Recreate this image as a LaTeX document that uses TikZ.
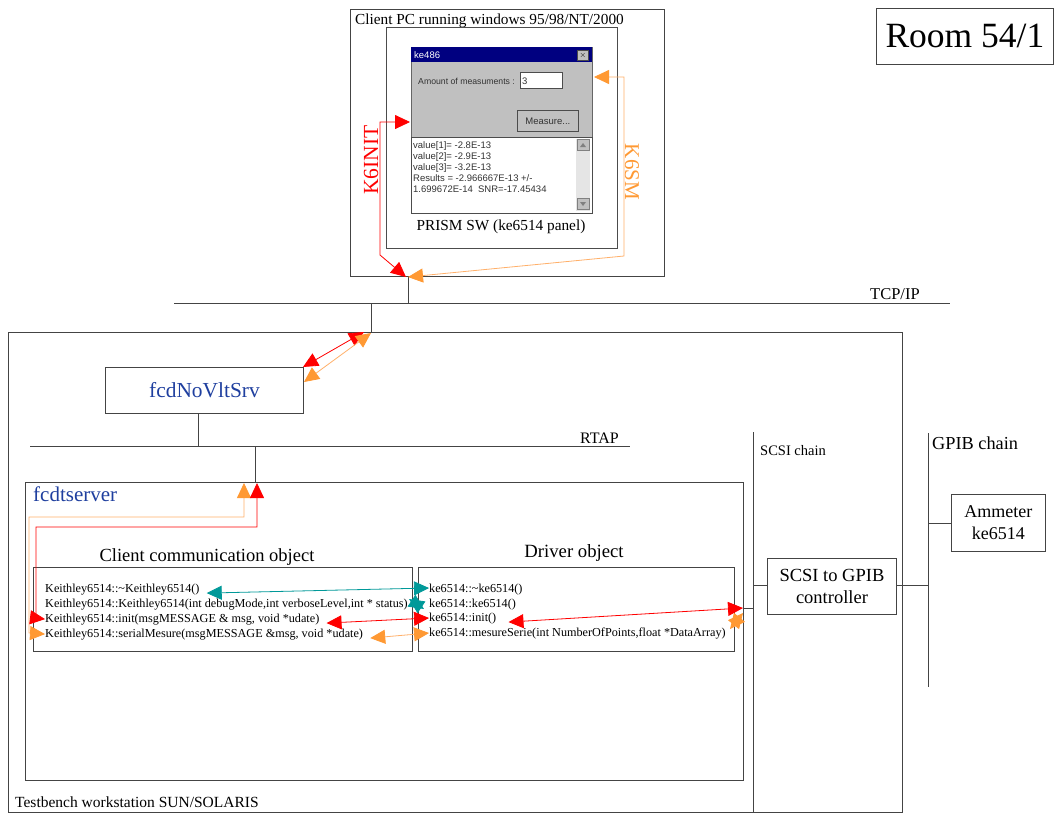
\documentclass[tikz,border=0pt]{standalone}
\usepackage{fontspec}
\setmainfont{Liberation Serif}
\newfontfamily\winfont{Liberation Sans}
\usetikzlibrary{arrows.meta}
\definecolor{cred}{HTML}{FF0000}
\definecolor{corange}{HTML}{FF9933}
\definecolor{corline}{HTML}{FFB06A}
\definecolor{cteal}{HTML}{009999}
\definecolor{cblue}{HTML}{1F3F9F}
\definecolor{cline}{HTML}{444444}
\definecolor{wingray}{HTML}{C0C0C0}
\definecolor{winnavy}{HTML}{000080}
\tikzset{
  box/.style={draw=cline, line width=0.9pt, inner sep=0pt},
  bus/.style={draw=cline, line width=0.9pt},
  lbl/.style={inner sep=0pt, anchor=base west},
  code/.style={inner sep=0pt, anchor=base west, font=\fontsize{12.2}{13}\selectfont},
  dtip/.style={{Triangle[length=15pt,width=14pt]}-{Triangle[length=15pt,width=14pt]}},
  redarr/.style={draw=cred, line width=0.8pt},
  orarr/.style={draw=corline, line width=0.8pt, {Triangle[length=15pt,width=14pt,color=corange]}-{Triangle[length=15pt,width=14pt,color=corange]}},
  tealarr/.style={draw=cteal, line width=0.8pt},
  wintext/.style={inner sep=0pt, anchor=base west, font=\winfont\fontsize{9.5}{11}\selectfont, text=black!80},
}
\begin{document}
\begin{tikzpicture}[x=1pt,y=-1pt]
\useasboundingbox (0,0) rectangle (1055,812);
\fill[white] (0,0) rectangle (1055,812);

% Room
\node[box, minimum width=177pt, minimum height=56pt, anchor=north west, font=\fontsize{35.5}{37}\selectfont] (room) at (876,8) {Room 54/1};

% Client PC
\node[box, minimum width=314pt, minimum height=267pt, anchor=north west] (pc) at (350,9) {};
\node[lbl, font=\fontsize{15.3}{17}\selectfont] (pclbl) at (355,24) {Client PC running windows 95/98/NT/2000};
\node[draw=black!70, line width=0.9pt, minimum width=231pt, minimum height=221pt, anchor=north west, inner sep=0pt] (inner) at (386,27) {};

% Window screenshot
\node[fill=wingray, draw=black!60, line width=0.8pt, minimum width=181pt, minimum height=166pt, anchor=north west, inner sep=0pt] (win) at (411,47) {};
\fill[winnavy] (411,47) rectangle (592,62);
\node[inner sep=0pt, anchor=base west, font=\winfont\fontsize{9.5}{10}\selectfont, text=white] (wintitle) at (414,58.5) {ke486};
\node[fill=wingray, draw=black!70, minimum width=11pt, minimum height=10pt, inner sep=0pt, font=\winfont\bfseries\fontsize{8}{8}\selectfont] (close) at (583,55) {$\times$};
\node[wintext, font=\winfont\fontsize{8.7}{10}\selectfont] (amt) at (418,84) {Amount of measuments :};
\node[fill=white, draw=black!70, line width=0.6pt, minimum width=42pt, minimum height=16pt, anchor=north west, inner sep=0pt] (field) at (520,72) {};
\node[wintext] (three) at (522,84) {3};
\node[fill=wingray, draw=black!70, line width=0.8pt, minimum width=61pt, minimum height=21pt, anchor=north west, inner sep=0pt] (btn) at (517,110) {};
\node[inner sep=0pt, font=\winfont\fontsize{9.5}{11}\selectfont, text=black!80] (btntext) at (btn.center) {Measure...};
\node[fill=white, draw=black!70, line width=0.8pt, minimum width=181pt, minimum height=76pt, anchor=north west, inner sep=0pt] (area) at (411,137) {};
\fill[black!10] (576,139) rectangle (590,211);
\node[fill=wingray, draw=black!50, minimum width=12pt, minimum height=11pt, inner sep=0pt] (sbup) at (583,145) {};
\fill[black!50] (580,147) -- (586,147) -- (583,143) -- cycle;
\node[fill=wingray, draw=black!50, minimum width=12pt, minimum height=11pt, inner sep=0pt] (sbdn) at (583,204) {};
\fill[black!50] (580,202) -- (586,202) -- (583,206) -- cycle;
\node[wintext] (v1) at (413,148.5) {value[1]= -2.8E-13};
\node[wintext] (v2) at (413,159.5) {value[2]= -2.9E-13};
\node[wintext] (v3) at (413,170.5) {value[3]= -3.2E-13};
\node[wintext] (v4) at (413,181.5) {Results = -2.966667E-13 +/-};
\node[wintext] (v5) at (413,192.5) {1.699672E-14~~SNR=-17.45434};
\node[inner sep=0pt, font=\fontsize{15.3}{17}\selectfont] (prism) at (501,227) {PRISM SW (ke6514 panel)};

% K6INIT / K6SM labels
\node[inner sep=0pt, rotate=90, text=cred, font=\fontsize{21.5}{23}\selectfont] (k6init) at (371,160) {K6INIT};
\node[inner sep=0pt, rotate=-90, text=corange, font=\fontsize{21}{23}\selectfont] (k6sm) at (632,172) {K6SM};

% TCP/IP
\coordinate (tcpL) at (174,303);
\coordinate (tcpR) at (950,303);
\draw[bus] (tcpL) -- (tcpR);
\node[lbl, font=\fontsize{16.5}{18}\selectfont] (tcplbl) at (870,299) {TCP/IP};
\coordinate (pcdrop) at (408,276);
\coordinate (pctcp) at (408,303);
\draw[bus] (pcdrop) -- (pctcp);
\coordinate (tbtcp) at (371,303);
\coordinate (tbtop) at (371,332);
\draw[bus] (tbtcp) -- (tbtop);

% arrows in client PC
\coordinate (k6a) at (410,122);
\coordinate (k6b) at (406,277);
\draw[redarr, dtip, cred] (k6a) -- (380,122) -- (380,255) -- (k6b);
\coordinate (k6c) at (594,77);
\coordinate (k6d) at (408,277);
\draw[orarr] (k6c) -- (624,77) -- (624,256) -- (k6d);

% Testbench
\node[box, minimum width=894pt, minimum height=480pt, anchor=north west] (tb) at (8,332) {};
\node[lbl, font=\fontsize{15.5}{17}\selectfont] (tblbl) at (15,807) {Testbench workstation SUN/SOLARIS};

% fcdNoVltSrv
\node[box, minimum width=198pt, minimum height=46pt, anchor=north west, text=cblue, font=\fontsize{21.4}{23}\selectfont] (nov) at (105,367) {fcdNoVltSrv};
\coordinate (tbjA) at (364,332);
\coordinate (tbjB) at (371,333);
\draw[redarr, dtip, cred] (tbjA) -- (303,367);
\draw[orarr] (tbjB) -- (304,382);

% RTAP
\coordinate (rtL) at (30,446);
\coordinate (rtR) at (630,446);
\draw[bus] (rtL) -- (rtR);
\node[lbl, font=\fontsize{16}{18}\selectfont] (rtlbl) at (580,443) {RTAP};
\coordinate (novrt) at (198,446);
\draw[bus] (nov.south -| novrt) -- (novrt);
\coordinate (rtdrop) at (255,446);
\coordinate (fsdrop) at (255,482);
\draw[bus] (rtdrop) -- (fsdrop);

% fcdtserver
\node[box, minimum width=718pt, minimum height=298pt, anchor=north west] (fs) at (25,482) {};
\node[lbl, text=cblue, font=\fontsize{21}{23}\selectfont] (fslbl) at (33,501) {fcdtserver};

% client communication object
\node[inner sep=0pt, font=\fontsize{18.5}{20}\selectfont] (cctitle) at (207,557) {Client communication object};
\node[box, minimum width=379pt, minimum height=84pt, anchor=north west] (cc) at (33,567) {};
\node[code] (c1) at (45,592) {Keithley6514::\textasciitilde Keithley6514()};
\node[code] (c2) at (45,607) {Keithley6514::Keithley6514(int debugMode,int verboseLevel,int * status)};
\node[code] (c3) at (45,622) {Keithley6514::init(msgMESSAGE \& msg, void *udate)};
\node[code] (c4) at (45,637) {Keithley6514::serialMesure(msgMESSAGE \&msg, void *udate)};

% driver object
\node[inner sep=0pt, font=\fontsize{18.7}{20}\selectfont] (drtitle) at (574,553) {Driver object};
\node[box, minimum width=316pt, minimum height=84pt, anchor=north west] (dr) at (418,567) {};
\node[code] (d1) at (429,592) {ke6514::\textasciitilde ke6514()};
\node[code] (d2) at (429,607) {ke6514::ke6514()};
\node[code] (d3) at (429,621) {ke6514::init()};
\node[code] (d4) at (429,636) {ke6514::mesureSerie(int NumberOfPoints,float *DataArray)};

% fcdtserver internal arrows
\coordinate (fsO) at (244,483);
\coordinate (fsR) at (257,483);
\draw[orarr] (fsO) -- (244,517) -- (29,517) -- (29,633) -- (c4.west);
\draw[redarr, dtip, cred] (fsR) -- (257,527) -- (36,527) -- (36,618) -- (c3.west);

% between objects
\draw[tealarr, dtip, cteal] ([xshift=7pt,yshift=-4pt]c1.east) -- (d1.west |- 0,588);
\coordinate (tA) at (409,599);
\coordinate (tB) at (424,609);
\draw[tealarr, dtip, cteal] (tA) -- (tB);
\draw[redarr, dtip, cred] ([xshift=7pt,yshift=-4pt]c3.east) -- (d3.west |- 0,618);
\draw[orarr] ([xshift=7pt,yshift=-4pt]c4.east) -- (d4.west |- 0,633);
\coordinate (scA) at (743,608);
\draw[redarr, dtip, cred] ([xshift=12pt,yshift=-4pt]d3.east) -- (scA);
\coordinate (oA) at (730,629);
\coordinate (oB) at (743,613);
\draw[orarr] (oA) -- (oB);

% SCSI chain
\coordinate (scT) at (753,432);
\coordinate (scB) at (753,812);
\draw[bus] (scT) -- (scB);
\node[lbl, font=\fontsize{14.5}{16}\selectfont] (sclbl) at (760,455) {SCSI chain};
\coordinate (fsR1) at (743,608);
\coordinate (scJ1) at (753,608);
\draw[bus] (fsR1) -- (scJ1);
\node[box, minimum width=129pt, minimum height=56pt, anchor=north west, align=center, font=\fontsize{18.5}{22}\selectfont] (ctrl) at (767,558) {SCSI to GPIB\\controller};
\coordinate (scJ2) at (753,585);
\draw[bus] (scJ2) -- (ctrl.west |- scJ2);

% GPIB chain
\coordinate (gpT) at (928,433);
\coordinate (gpB) at (928,687);
\draw[bus] (gpT) -- (gpB);
\node[lbl, font=\fontsize{18.3}{20}\selectfont] (gplbl) at (932,449) {GPIB chain};
\coordinate (gpJ1) at (928,585);
\draw[bus] (ctrl.east |- gpJ1) -- (gpJ1);
\node[box, minimum width=94pt, minimum height=57pt, anchor=north west, align=center, font=\fontsize{18}{22}\selectfont] (amm) at (951,494) {Ammeter\\ke6514};
\coordinate (gpJ2) at (928,523);
\draw[bus] (gpJ2) -- (amm.west |- gpJ2);
\end{tikzpicture}
\end{document}
